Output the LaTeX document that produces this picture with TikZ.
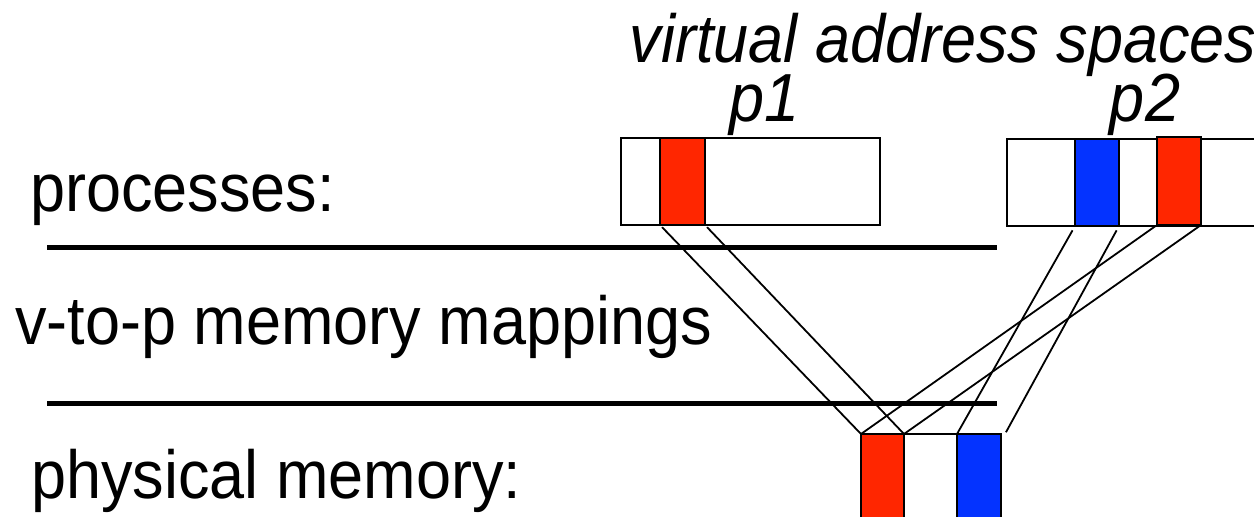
\documentclass[tikz,border=0pt]{standalone}
\usepackage{fontspec}
\setmainfont{Liberation Sans}
\definecolor{cred}{RGB}{255,38,0}
\definecolor{cblue}{RGB}{4,51,255}
\newcommand{\tall}[1]{\scalebox{1}[1.08]{#1}}
\begin{document}
\begin{tikzpicture}[x=1pt,y=-1pt,
  cell/.style={draw=black,line width=2pt,inner sep=0pt,outer sep=0pt,anchor=north west},
  lbl/.style={anchor=base west,inner sep=0pt,font=\fontsize{63}{63}\selectfont},
  ttl/.style={anchor=base,inner sep=0pt,font=\fontsize{63}{63}\selectfont\itshape},
  sep/.style={line width=5pt},
  map/.style={line width=1.8pt}]
\useasboundingbox (0,0) rectangle (1254,517);
\clip (0,0) rectangle (1254,517);
% labels
\node[lbl] (tproc) at (30,211) {\tall{processes:}};
\node[lbl] (tmap) at (15,344) {\tall{v-to-p memory mappings}};
\node[lbl] (tphys) at (31,498) {\tall{physical memory:}};
\node[ttl] (tvas) at (943,62) {\tall{virtual address spaces}};
\node[ttl] (tp1) at (765,121) {\tall{p1}};
\node[ttl] (tp2) at (1145,121) {\tall{p2}};
% separators
\coordinate (s1a) at (47,247); \coordinate (s1b) at (997,247);
\coordinate (s2a) at (47,403); \coordinate (s2b) at (997,403);
\draw[sep] (s1a) -- (s1b);
\draw[sep] (s2a) -- (s2b);
% p1
\node[cell,fill=white,minimum width=259,minimum height=87] (p1) at (621,138) {};
\node[cell,fill=cred,minimum width=45,minimum height=87] (p1r) at (660,138) {};
% p2
\node[cell,fill=white,minimum width=260,minimum height=87] (p2) at (1007,139) {};
\node[cell,fill=cblue,minimum width=44,minimum height=87] (p2b) at (1075,139) {};
\node[cell,fill=cred,minimum width=44,minimum height=88] (p2r) at (1157,137) {};
% physical memory
\node[cell,fill=white,minimum width=140,minimum height=90] (pm) at (861,434) {};
\node[cell,fill=cred,minimum width=43,minimum height=90] (pmr) at (861,434) {};
\node[cell,fill=cblue,minimum width=44,minimum height=90] (pmb) at (957,434) {};
% mappings
\draw[map,shorten <=3pt] (p1r.south west) -- (pmr.north west);
\draw[map,shorten <=3pt] (p1r.south east) -- (pmr.north east);
\draw[map,shorten <=2pt] (p2r.south west) -- (pmr.north west);
\draw[map,shorten <=2pt] (p2r.south east) -- (pmr.north east);
\draw[map,shorten <=5pt] (p2b.south west) -- (pmb.north west);
\draw[map,shorten <=5pt,shorten >=2pt] (p2b.south east) -- ([xshift=4pt]pmb.north east);
\end{tikzpicture}
\end{document}
